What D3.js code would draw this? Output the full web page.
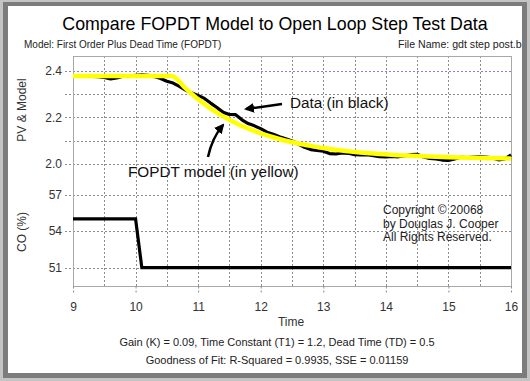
<!DOCTYPE html>
<html>
<head>
<meta charset="utf-8">
<script src="https://cdn.jsdelivr.net/npm/d3@7"></script>
<style>
  body { margin: 0; background: #fff; }
  text { font-family: Arial, "Liberation Sans", sans-serif; }
</style>
</head>
<body>
<script>
// time axis
let xTicks = [9, 10, 11, 12, 13, 14, 15, 16];
let xGrid = [9.5, 10, 10.5, 11, 11.5, 12, 12.5, 13, 13.5, 14, 14.5, 15, 15.5];

let pvTime = [9.0, 9.1, 9.2, 9.3, 9.4, 9.5, 9.6, 9.7, 9.8, 9.9,
  10.0, 10.1, 10.2, 10.3, 10.4, 10.5, 10.6, 10.7, 10.8, 10.9,
  11.0, 11.1, 11.2, 11.3, 11.4, 11.5, 11.6, 11.7, 11.8, 11.9,
  12.0, 12.1, 12.2, 12.3, 12.4, 12.5, 12.6, 12.7, 12.8, 12.9,
  13.0, 13.1, 13.2, 13.3, 13.4, 13.5, 13.6, 13.7, 13.8, 13.9,
  14.0, 14.1, 14.2, 14.3, 14.4, 14.5, 14.6, 14.7, 14.8, 14.9,
  15.0, 15.1, 15.2, 15.3, 15.4, 15.5, 15.6, 15.7, 15.8, 15.9, 16.0];
let pvData = [2.377, 2.377, 2.378, 2.377, 2.376, 2.372, 2.366, 2.370, 2.378, 2.378,
  2.381, 2.383, 2.381, 2.376, 2.368, 2.356, 2.348, 2.334, 2.318, 2.305,
  2.295, 2.282, 2.262, 2.243, 2.222, 2.213, 2.212, 2.190, 2.174, 2.164,
  2.152, 2.137, 2.128, 2.117, 2.108, 2.099, 2.086, 2.072, 2.062, 2.058,
  2.055, 2.045, 2.043, 2.048, 2.046, 2.040, 2.039, 2.040, 2.036, 2.032,
  2.030, 2.033, 2.031, 2.035, 2.040, 2.042, 2.030, 2.024, 2.022, 2.017,
  2.015, 2.022, 2.029, 2.028, 2.030, 2.031, 2.030, 2.026, 2.018, 2.022, 2.039];

// FOPDT model (yellow)
let modelTime = [9.0, 10.0, 10.58, 10.8, 11.0, 11.2, 11.4, 11.6, 11.8, 12.0,
  12.2, 12.4, 12.6, 12.8, 13.0, 13.4, 13.8, 14.2, 14.6, 15.0, 15.5, 16.0];
let modelData = [2.379, 2.379, 2.379, 2.325, 2.278, 2.238, 2.205, 2.176, 2.152, 2.132,
  2.115, 2.100, 2.088, 2.078, 2.069, 2.055, 2.045, 2.038, 2.033, 2.029, 2.026, 2.024];

// controller output
let coTime = [9.0, 10.0, 10.1, 16.0];
let coData = [55, 55, 51, 51];

let pvTicks = [2.0, 2.2, 2.4];
let pvGrid = [2.1, 2.2, 2.3, 2.4];
let coTicks = [51, 54, 57];

let W = 530, H = 381;
let plotLeft = 73, plotRight = 511, pvTop = 56, split = 164, coBottom = 286;

let svg = d3.select("body").append("svg")
  .attr("width", W).attr("height", H);

// frame
svg.append("rect").attr("width", W).attr("height", H).attr("fill", "#c4c4c4");
svg.append("rect").attr("x", 3).attr("y", 2).attr("width", W - 6).attr("height", H - 5).attr("fill", "#7c7c7c");
svg.append("rect").attr("x", 8).attr("y", 6).attr("width", W - 16).attr("height", H - 14).attr("fill", "#ffffff");

let xScale = d3.scaleLinear().domain([9, 16]).range([plotLeft, plotRight]);
let yPV = d3.scaleLinear().domain([2.0, 2.4645]).range([split, pvTop]);
let yCO = d3.scaleLinear().domain([49.5, 59.5]).range([coBottom, split]);

let gridColor = "#8c8c8c";
let snap = v => Math.round(v) + 0.5;

// dotted grid lines
let grid = svg.append("g").attr("shape-rendering", "crispEdges");
grid.selectAll("line.vg").data(xGrid).join("line").attr("class", "vg")
  .attr("x1", d => snap(xScale(d))).attr("x2", d => snap(xScale(d)))
  .attr("y1", pvTop).attr("y2", coBottom)
  .attr("stroke", gridColor).attr("stroke-dasharray", "2 2");
grid.selectAll("line.pg").data(pvGrid).join("line").attr("class", "pg")
  .attr("x1", plotLeft - 8).attr("x2", plotRight)
  .attr("y1", d => snap(yPV(d))).attr("y2", d => snap(yPV(d)))
  .attr("stroke", d => d === 2.4 ? "#7f7fe0" : gridColor).attr("stroke-dasharray", "2 2");
grid.selectAll("line.cg").data(coTicks.concat([59.5])).join("line").attr("class", "cg")
  .attr("x1", plotLeft - 8).attr("x2", plotRight)
  .attr("y1", d => snap(yCO(d))).attr("y2", d => snap(yCO(d)))
  .attr("stroke", gridColor).attr("stroke-dasharray", "2 2");

// plot border
svg.append("rect")
  .attr("x", plotLeft + 0.5).attr("y", pvTop + 0.5)
  .attr("width", plotRight - plotLeft).attr("height", coBottom - pvTop)
  .attr("fill", "none").attr("stroke", "#a8a8a8");

// axes: labels only, the grid does the lines
function styleAxis(sel) {
  sel.select(".domain").remove();
  sel.selectAll(".tick line").attr("stroke", gridColor).attr("stroke-dasharray", "2 2");
  sel.selectAll(".tick text").attr("fill", "#333").attr("font-size", 12)
    .attr("font-family", "Arial, 'Liberation Sans', sans-serif");
}

svg.append("g")
  .attr("transform", "translate(" + plotLeft + ",0)")
  .call(d3.axisLeft(yPV).tickValues(pvTicks).tickFormat(d3.format(".1f")).tickSize(0).tickPadding(11))
  .call(styleAxis);

svg.append("g")
  .attr("transform", "translate(" + plotLeft + ",0)")
  .call(d3.axisLeft(yCO).tickValues(coTicks).tickFormat(d3.format("d")).tickSize(0).tickPadding(11))
  .call(styleAxis);

svg.append("g")
  .attr("transform", "translate(0," + (coBottom + 0.5) + ")")
  .call(d3.axisBottom(xScale).tickValues(xTicks).tickFormat(d3.format("d")).tickSize(8).tickPadding(8))
  .call(styleAxis);

// lines
let pvLine = d3.line().x((d, i) => xScale(pvTime[i])).y(d => yPV(d));
let modelLine = d3.line().x((d, i) => xScale(modelTime[i])).y(d => yPV(d)).curve(d3.curveMonotoneX);
let coLine = d3.line().x((d, i) => xScale(coTime[i])).y(d => yCO(d));

svg.append("path").datum(pvData).attr("d", pvLine)
  .attr("fill", "none").attr("stroke", "#000").attr("stroke-width", 3.2)
  .attr("stroke-linejoin", "round");
svg.append("path").datum(modelData).attr("d", modelLine)
  .attr("fill", "none").attr("stroke", "#ffff00").attr("stroke-width", 4.5)
  .attr("stroke-linejoin", "round");
svg.append("path").datum(coData).attr("d", coLine)
  .attr("fill", "none").attr("stroke", "#000").attr("stroke-width", 3.2);

// titles and labels
svg.append("text").attr("x", 275).attr("y", 30).attr("text-anchor", "middle")
  .attr("font-size", 17.8).attr("fill", "#000")
  .text("Compare FOPDT Model to Open Loop Step Test Data");
svg.append("text").attr("x", 24).attr("y", 48).attr("font-size", 10).attr("fill", "#222")
  .text("Model: First Order Plus Dead Time (FOPDT)");
svg.append("text").attr("x", 398).attr("y", 48).attr("font-size", 10.6).attr("fill", "#222")
  .text("File Name: gdt step post.b");

svg.append("text").attr("transform", "translate(26,110) rotate(-90)")
  .attr("text-anchor", "middle").attr("font-size", 12).attr("fill", "#333")
  .text("PV & Model");
svg.append("text").attr("transform", "translate(26,232) rotate(-90)")
  .attr("text-anchor", "middle").attr("font-size", 12).attr("fill", "#333")
  .text("CO (%)");

svg.append("text").attr("x", 291).attr("y", 326).attr("text-anchor", "middle")
  .attr("font-size", 12).attr("fill", "#333").text("Time");
svg.append("text").attr("x", 277).attr("y", 346).attr("text-anchor", "middle")
  .attr("font-size", 11).attr("fill", "#222")
  .text("Gain (K) = 0.09, Time Constant (T1) = 1.2, Dead Time (TD) = 0.5");
svg.append("text").attr("x", 277).attr("y", 364).attr("text-anchor", "middle")
  .attr("font-size", 11).attr("fill", "#222")
  .text("Goodness of Fit: R-Squared = 0.9935, SSE = 0.01159");

// annotations
svg.append("text").attr("x", 290).attr("y", 108).attr("font-size", 15.3).attr("fill", "#111")
  .text("Data (in black)");
svg.append("text").attr("x", 128).attr("y", 177).attr("font-size", 15.3).attr("fill", "#111")
  .text("FOPDT model (in yellow)");

let defs = svg.append("defs");
defs.append("marker").attr("id", "head").attr("viewBox", "0 0 10 10")
  .attr("refX", 8).attr("refY", 5).attr("markerWidth", 4).attr("markerHeight", 4)
  .attr("orient", "auto")
  .append("path").attr("d", "M0,0 L10,5 L0,10 Z").attr("fill", "#000");

svg.append("path").attr("d", "M282,104 L246,109")
  .attr("stroke", "#000").attr("stroke-width", 2.5).attr("fill", "none")
  .attr("marker-end", "url(#head)");
svg.append("path").attr("d", "M208,157 Q212,138 223,125")
  .attr("stroke", "#000").attr("stroke-width", 2.5).attr("fill", "none")
  .attr("marker-end", "url(#head)");

// copyright
let cp = ["Copyright \u00a9 20068", "by Douglas J. Cooper", "All Rights Reserved."];
cp.forEach(function(line, i) {
  svg.append("text").attr("x", 383).attr("y", 214 + i * 13.5)
    .attr("font-size", 12).attr("fill", "#222").text(line);
});

// right frame edge drawn last so the file name is cut off like the source
svg.append("rect").attr("x", W - 8).attr("y", 0).attr("width", 8).attr("height", H).attr("fill", "#c4c4c4");
svg.append("rect").attr("x", W - 8).attr("y", 2).attr("width", 5).attr("height", H - 5).attr("fill", "#7c7c7c");
</script>
</body>
</html>
